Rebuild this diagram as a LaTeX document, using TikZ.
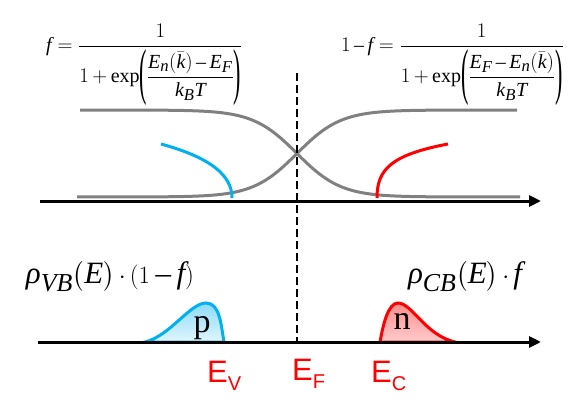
\documentclass[tikz,border=0pt]{standalone}
\usepackage{amsmath}
\usepackage{graphicx}
\usepackage{fontspec}
\setmainfont{Liberation Serif}
\usepackage[italic]{mathastext}
\newfontfamily\arialf{Liberation Sans}
\usetikzlibrary{arrows.meta}
\definecolor{myblue}{RGB}{0,176,240}
\definecolor{myred}{RGB}{255,0,0}
\definecolor{mygray}{RGB}{128,128,128}
\tikzset{
  graycurve/.style={draw=mygray,line width=3pt},
  bandcurve/.style={line width=3pt},
  axisline/.style={draw=black,line width=3pt,-{Triangle[length=12pt,width=11pt]}},
  fermiline/.style={draw=black,line width=2.5pt,dash pattern=on 8pt off 4pt},
  formula/.style={font=\fontsize{20}{24}\selectfont,inner sep=0pt,anchor=west},
  biglabel/.style={font=\fontsize{31}{36}\selectfont,inner sep=0pt,anchor=base},
  carrier/.style={font=\fontsize{34}{38}\selectfont,inner sep=0pt,anchor=base},
  energy/.style={font=\arialf\fontsize{31}{34}\selectfont,text=myred,inner sep=0pt,anchor=base west}
}
\newcommand{\esub}[2]{#1\raisebox{-8pt}{\fontsize{20}{22}\selectfont #2}}
\newcommand{\bigop}{\mathopen{\vcenter{\hbox{\scalebox{1.1}[3.1]{(}}}}}
\newcommand{\bigcl}{\mathclose{\vcenter{\hbox{\scalebox{1.1}[3.1]{)}}}}}
\newcommand{\tightmu}{\medmuskip=3mu\relax}
\newcommand{\rhoT}{\mathord{\mbox{\itshape ρ}}}
\newcommand{\cdt}{\mathord{\,\cdot\,}}
\begin{document}
\begin{tikzpicture}[x=1pt,y=-1pt]
\useasboundingbox (0,0) rectangle (588,401);
% formulas
\node[formula] (fL) at (46,65) {$\tightmu f=\dfrac{\rule[-5pt]{0pt}{5pt}1}{1+\exp\bigop\dfrac{E_n(\bar{k})-E_F}{k_BT}\bigcl}$};
\node[formula] (fR) at (341,65) {$\tightmu 1-f=\dfrac{\rule[-5pt]{0pt}{5pt}1}{1+\exp\bigop\dfrac{E_F-E_n(\bar{k})}{k_BT}\bigcl}$};
% gray Fermi curves
\draw[graycurve] plot[domain=80:520,samples=180] (\x,{153.5+43.5*tanh((\x-297)/44)});
\draw[graycurve] plot[domain=77:517,samples=180] (\x,{153.5-43.5*tanh((\x-297)/44)});
% band curves (density of states)
\coordinate (vbE) at (232,198);
\coordinate (vbT) at (161,144);
\coordinate (cbE) at (377,198);
\coordinate (cbT) at (448,144);
\draw[bandcurve,myblue] (vbE) .. controls (232,176) and (212,158) .. (vbT);
\draw[bandcurve,myred] (cbE) .. controls (377,170) and (390,155) .. (cbT);
% axes
\coordinate (a1s) at (40,201);
\coordinate (a1e) at (541,201);
\coordinate (a2s) at (38,342);
\coordinate (a2e) at (541,342);
% carrier distributions
\path[draw=myblue,line width=3pt,top color=myblue!45,bottom color=myblue!12]
  (145,342) .. controls (170,336) and (190,303) .. (206,303)
  .. controls (220,303) and (221,325) .. (224,342) -- cycle;
\path[draw=myred,line width=3pt,top color=myred!45,bottom color=myred!20]
  (380,342) .. controls (383,325) and (388,303) .. (398,303)
  .. controls (412,303) and (425,335) .. (455,342) -- cycle;
\draw[axisline] (a1s) -- (a1e);
\draw[axisline] (a2s) -- (a2e);
% Fermi level
\coordinate (efT) at (297,73);
\coordinate (efB) at (297,342);
\draw[fermiline] (efT) -- (efB);
% labels
\node[biglabel] (lvb) at (110,283) {$\rhoT_{VB}\bigl(E\bigr)\cdt(1-f)$};
\node[biglabel] (lcb) at (465,283) {$\rhoT_{CB}\bigl(E\bigr)\cdt f$};
\node[carrier] (p) at (202,332) {p};
\node[carrier] (n) at (402,329) {n};
\node[energy] (ev) at (207,382) {\esub{E}{V}};
\node[energy] (ef) at (292,380) {\esub{E}{F}};
\node[energy] (ec) at (371,382) {\esub{E}{C}};
\end{tikzpicture}
\end{document}
